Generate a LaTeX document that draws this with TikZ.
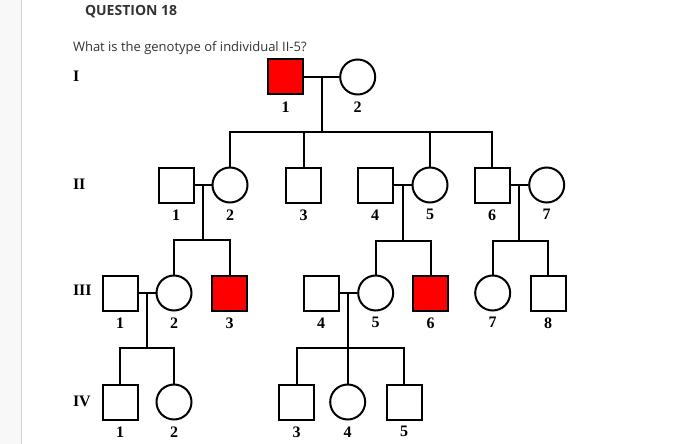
\documentclass[tikz,border=0pt]{standalone}
\usepackage{fontspec}
\setmainfont{Liberation Serif}
\newfontfamily\quizfont{Open Sans}
\usetikzlibrary{calc}

\begin{document}
\begin{tikzpicture}[x=1pt,y=-1pt,line width=2pt,label distance=3pt,
  male/.style={draw,rectangle,minimum size=35pt,inner sep=0pt},
  female/.style={draw,circle,minimum size=35pt,inner sep=0pt},
  hit/.style={fill=affected},
  num/.style={font=\bfseries\fontsize{16}{16}\selectfont,inner sep=2pt},
  gen/.style={font=\bfseries\fontsize{16}{16}\selectfont,anchor=west,inner sep=0pt}]
  \definecolor{affected}{HTML}{FF0000}
  \definecolor{ink}{HTML}{333333}
  \definecolor{panel}{HTML}{F8F8F8}
  \definecolor{rule}{HTML}{D2D2D2}
  \useasboundingbox (0,0) rectangle (697,444);
  \fill[white] (0,0) rectangle (697,444);
  % Page margin on the left.
  \fill[panel] (0,0) rectangle (21,444);
  \draw[rule,line width=1pt] (21.5,0) -- (21.5,444);
  % Question text.
  \node[anchor=base west,inner sep=0pt,text=ink,font=\quizfont\bfseries\fontsize{14}{15}\selectfont] (qhead) at (84,15.7) {QUESTION 18};
  \node[anchor=base west,inner sep=0pt,text=ink,font=\quizfont\fontsize{13}{14}\selectfont] (qtext) at (72,51.7) {What is the genotype of individual II-5?};
  % Generation numbers.
  \node[gen] (gI) at (72,76) {I};
  \node[gen] (gII) at (72,184) {II};
  \node[gen] (gIII) at (72,290) {III};
  \node[gen] (gIV) at (72,401) {IV};
  % Generation I.
  \node[male,hit,label={[num]below:1}] (I1) at (285.5,77) {};
  \node[female,label={[num]below:2}] (I2) at (357.7,77) {};
  % Generation II.
  \node[male,label={[num]below:1}] (II1) at (176,185) {};
  \node[female,label={[num]below:2}] (II2) at (230,185) {};
  \node[male,label={[num]below:3}] (II3) at (303.7,185) {};
  \node[male,label={[num]below:4}] (II4) at (375,185) {};
  \node[female,label={[num]below:5}] (II5) at (430,185) {};
  \node[male,label={[num]below:6}] (II6) at (492,185) {};
  \node[female,label={[num]below:7}] (II7) at (546.7,185) {};
  % Generation III.
  \node[male,label={[num]below:1}] (III1) at (120,293) {};
  \node[female,label={[num]below:2}] (III2) at (174,293) {};
  \node[male,hit,label={[num]below:3}] (III3) at (229.7,293) {};
  \node[male,label={[num]below:4}] (III4) at (321,293) {};
  \node[female,label={[num]below:5}] (III5) at (375.7,293) {};
  \node[male,hit,label={[num]below:6}] (III6) at (430.5,293) {};
  \node[female,label={[num]below:7}] (III7) at (492.7,293) {};
  \node[male,label={[num]below:8}] (III8) at (548,293) {};
  % Generation IV.
  \node[male,label={[num]below:1}] (IV1) at (120,402) {};
  \node[female,label={[num]below:2}] (IV2) at (174,402) {};
  \node[male,label={[num]below:3}] (IV3) at (296.7,402) {};
  \node[female,label={[num]below:4}] (IV4) at (347.7,402) {};
  \node[male,label={[num]below:5}] (IV5) at (404,402) {};
  % Couples, with the point where their children hang from.
  \draw (I1) -- (I2);
  \draw (II1) -- (II2);
  \draw (II4) -- (II5);
  \draw (II6) -- (II7);
  \draw (III1) -- (III2);
  \draw (III4) -- (III5);
  \coordinate (mI) at ($(I1.east)!.5!(I2.west)$);
  \coordinate (mII12) at ($(II1.east)!.5!(II2.west)$);
  \coordinate (mII45) at ($(II4.east)!.5!(II5.west)$);
  \coordinate (mII67) at ($(II6.east)!.5!(II7.west)$);
  \coordinate (mIII12) at ($(III1.east)!.5!(III2.west)$);
  \coordinate (mIII45) at ($(III4.east)!.5!(III5.west)$);
  \coordinate (sI) at ($(mI)+(0,55)$);
  \coordinate (sII12) at ($(mII12)+(0,55)$);
  \coordinate (sII45) at ($(mII45)+(0,56)$);
  \coordinate (sII67) at ($(mII67)+(0,56)$);
  \coordinate (sIII12) at ($(mIII12)+(0,55)$);
  \coordinate (sIII45) at ($(mIII45)+(0,55)$);
  % Sibships.
  \draw (mI) -- (sI);
  \draw (II2.north) |- (sI) -| (II6.north);
  \draw (II3.north) -- (II3.north |- sI);
  \draw (II5.north) -- (II5.north |- sI);
  \draw (mII12) -- (sII12);
  \draw (III2.north) |- (sII12) -| (III3.north);
  \draw (mII45) -- (sII45);
  \draw (III5.north) |- (sII45) -| (III6.north);
  \draw (mII67) -- (sII67);
  \draw (III7.north) |- (sII67) -| (III8.north);
  \draw (mIII12) -- (sIII12);
  \draw (IV1.north) |- (sIII12) -| (IV2.north);
  \draw (mIII45) -- (sIII45);
  \draw (IV3.north) |- (sIII45) -| (IV5.north);
  \draw (IV4.north) -- (IV4.north |- sIII45);
\end{tikzpicture}
\end{document}
